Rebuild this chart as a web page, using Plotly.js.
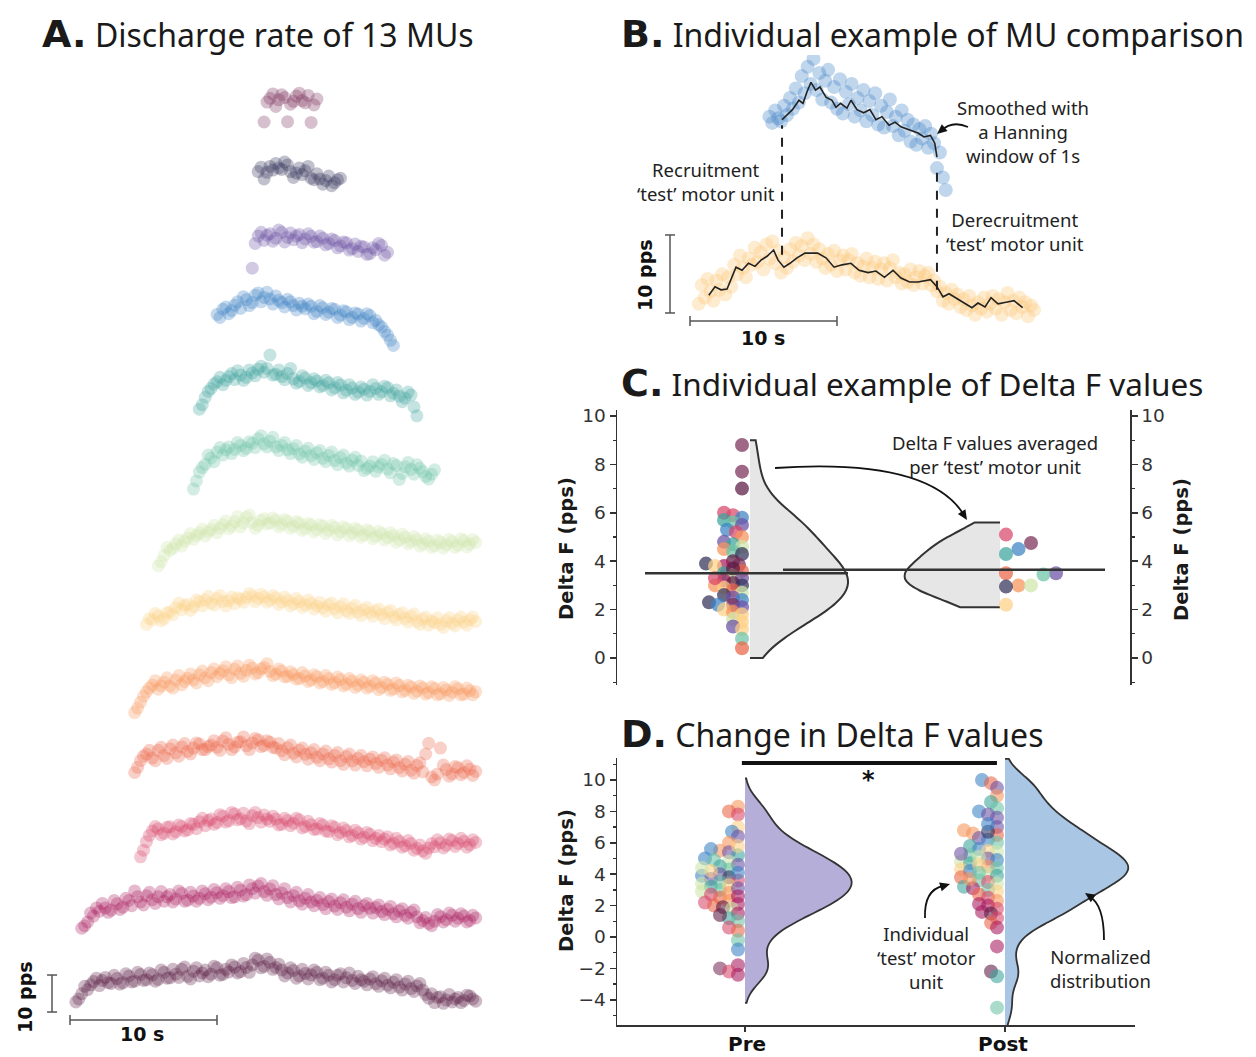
<!DOCTYPE html>
<html><head><meta charset="utf-8">
<script src="https://cdn.plot.ly/plotly-3.0.1.min.js"></script>
<style>body{margin:0;background:#fff}#chart{width:1256px;height:1057px}</style>
</head><body><div id="chart"></div>
<script>
// ---------------- DATA ----------------
// shared time grid (s)
const timeGrid = [0.0,0.2,0.4,0.6,0.8,1.0,1.2,1.4,1.6,1.8,2.0,2.2,2.4,2.6,2.8,3.0,3.2,3.4,3.6,3.8,4.0,4.2,4.4,4.6,4.8,5.0,5.2,5.4,5.6,5.8,6.0,6.2,6.4,6.6,6.8,7.0,7.2,7.4,7.6,7.8,8.0,8.2,8.4,8.6,8.8,9.0,9.2,9.4,9.6,9.8,10.0,10.2,10.4,10.6,10.8,11.0,11.2,11.4,11.6,11.8,12.0,12.2,12.4,12.6,12.8,13.0,13.2,13.4,13.6,13.8,14.0,14.2,14.4,14.6,14.8,15.0,15.2,15.4,15.6,15.8,16.0,16.2,16.4,16.6,16.8,17.0,17.2,17.4,17.6,17.8,18.0,18.2,18.4,18.6,18.8,19.0,19.2,19.4,19.6,19.8,20.0,20.2,20.4,20.6,20.8,21.0,21.2,21.4,21.6,21.8,22.0,22.2,22.4,22.6,22.8,23.0,23.2,23.4,23.6,23.8,24.0,24.2,24.4,24.6,24.8,25.0,25.2,25.4,25.6,25.8,26.0,26.2,26.4,26.6,26.8,27.0,27.2,27.4,27.6,27.8,28.0,28.2,28.4];
// Panel A: discharge rates (pps) of 13 MUs, from recruitment onset (s)
const muOnset = [13.2,12.8,12.4,10.0,8.8,8.4,6.0,5.2,4.4,4.4,4.8,0.8,0.4];
const mu01 = [9.4,14.8,15.8,17.0,13.6,15.4,16.8,16.0,9.5,14.2,15.0,16.4,17.2,15.2,14.6,16.6,9.3,14.0,15.6];
const mu02 = [14.0,15.2,12.0,13.8,15.4,14.4,16.2,15.0,14.6,16.6,15.8,14.0,12.4,13.6,15.0,13.2,14.2,15.4,12.2,11.8,13.4,12.0,10.6,11.6,12.8,10.2,11.0,11.8,12.2];
const mu03 = [5.9,12.6,14.6,15.6,13.4,14.8,15.2,13.2,14.0,16.2,15.6,13.0,14.2,15.4,13.6,14.6,15.0,12.8,13.8,15.2,14.5,12.9,13.1,14.6,14.0,12.2,12.6,13.8,13.4,11.4,11.9,13.0,12.8,10.8,11.2,12.4,10.4,11.8,11.6,9.6,9.8,11.4,10.9,12.6,12.0,9.4,10.2];
const mu04 = [15.4,14.6,16.8,17.4,15.6,16.4,17.9,18.8,17.0,20.2,19.4,17.8,18.6,20.6,21.2,18.8,20.0,21.4,19.6,18.2,20.4,19.2,18.6,17.4,19.5,18.8,17.8,16.6,18.4,17.6,16.9,18.2,17.6,15.6,16.2,17.8,17.2,15.4,16.0,17.0,16.8,14.6,15.2,16.4,16.1,14.0,14.6,15.8,15.5,13.6,14.3,15.6,15.1,13.2,13.8,12.6,12.0,10.8,9.8,8.4,7.0];
const mu05 = [7.8,9.0,11.0,12.6,13.4,14.6,15.2,16.4,14.4,15.6,16.6,17.4,15.8,18.2,17.0,15.6,16.4,18.4,17.6,16.8,18.6,19.4,17.8,18.8,22.4,17.0,17.2,18.4,16.6,15.8,17.4,18.8,16.0,14.8,15.3,16.8,16.2,14.2,14.9,16.0,15.4,13.8,14.2,15.6,14.9,13.0,13.6,15.0,14.3,12.2,12.9,14.4,13.5,11.8,12.4,13.8,13.2,11.6,12.6,14.4,13.4,11.8,12.5,14.0,13.6,11.4,12.1,13.0,11.3,9.8,10.8,12.4,11.6,8.4,6.0];
const mu06 = [6.2,8.4,10.8,12.0,12.9,15.4,14.6,13.6,16.2,17.4,15.4,16.8,17.6,15.8,16.9,18.8,18.0,16.6,17.2,19.0,18.6,17.4,19.8,20.6,18.4,17.6,19.1,20.2,17.6,16.6,18.0,18.8,16.8,15.8,17.1,18.0,15.7,14.8,16.4,17.2,15.2,14.2,16.0,16.6,14.5,13.6,15.3,16.2,13.9,12.8,14.7,15.4,13.2,12.4,14.0,14.8,12.6,13.8,11.2,11.8,12.4,13.6,11.0,12.2,12.9,14.0,11.6,10.6,13.1,12.6,8.8,10.4,12.2,13.4,11.5,10.2,12.8,11.8,10.9,9.6,8.9,10.2,11.4];
const mu07 = [7.4,8.6,10.2,12.4,11.6,12.2,13.4,14.4,12.8,14.0,15.0,16.2,14.6,15.6,16.3,17.4,15.5,16.6,17.2,18.4,16.4,17.6,18.6,19.6,17.5,18.2,19.4,20.8,18.0,19.0,20.6,21.2,19.1,17.6,18.4,19.8,20.2,18.8,19.0,20.4,19.8,18.0,18.6,20.0,19.5,17.6,18.2,19.4,19.0,17.0,17.6,18.9,18.5,16.6,17.3,18.6,18.2,16.2,17.0,18.4,17.8,15.8,16.6,18.0,17.5,15.6,16.3,17.6,17.1,15.2,15.8,17.2,16.7,14.8,15.4,16.8,16.2,14.4,15.1,16.4,15.6,13.8,14.5,16.0,15.2,13.4,14.0,15.4,14.6,12.8,13.4,14.8,14.1,12.4,12.9,14.4,13.8,12.2,13.1,14.6,14.0,12.4,13.0,14.8,14.2,12.6,13.3,14.6,13.8];
const mu08 = [9.6,11.2,10.8,12.6,11.9,10.6,11.2,12.8,13.0,12.2,14.2,15.4,13.6,14.8,15.0,13.4,14.4,16.2,15.8,14.6,16.2,17.2,15.4,14.8,16.6,17.4,15.8,14.6,16.0,17.0,15.2,16.8,16.4,15.6,16.9,18.0,17.3,15.8,16.6,17.8,17.0,15.6,16.2,17.4,16.8,15.0,15.7,17.0,16.1,14.6,15.2,16.6,15.8,14.2,14.9,16.2,15.4,13.8,14.6,15.6,14.1,13.2,14.9,15.4,13.8,12.8,14.4,15.2,13.3,12.6,14.0,14.8,12.9,12.0,13.6,14.2,12.8,11.8,13.2,13.8,12.2,11.2,12.9,13.4,11.6,10.8,12.3,12.8,11.2,10.2,11.8,12.4,10.4,9.6,11.0,11.6,9.4,10.6,10.1,11.4,9.6,8.8,10.6,11.4,9.9,9.2,10.8,11.6,10.2,9.4,10.9,11.6,10.4];
const mu09 = [5.8,7.0,8.6,10.2,11.4,12.4,13.2,14.4,12.1,13.0,14.0,15.2,13.0,12.4,14.6,15.8,13.3,14.2,15.1,16.2,14.6,13.8,16.0,17.0,15.2,14.4,16.6,17.6,15.5,16.4,17.1,18.2,16.0,15.2,17.5,18.4,16.4,15.6,17.2,18.6,17.8,16.2,16.6,17.6,18.0,19.0,16.9,15.8,16.2,17.6,17.0,15.4,15.6,16.8,16.1,14.8,15.0,16.6,15.7,14.2,14.6,16.0,15.5,13.8,14.2,15.8,15.0,13.4,13.9,15.4,14.7,13.0,13.5,15.0,14.3,12.6,13.2,14.6,14.0,12.4,12.9,14.4,13.8,12.0,12.6,14.0,13.4,11.8,12.2,13.8,13.1,11.4,11.8,13.2,12.7,11.0,11.6,13.0,12.4,10.8,11.2,12.8,12.3,10.6,10.9,12.6,11.9,10.4,11.3,12.8,12.2,10.6,10.8,12.4,11.7,10.6,11.4];
const mu10 = [9.6,11.0,12.8,14.0,14.6,15.6,13.5,12.8,15.6,16.4,14.2,13.4,16.0,17.0,14.9,14.0,16.5,17.4,15.3,14.6,16.2,17.6,17.3,15.8,15.8,16.6,17.0,18.2,16.4,15.6,18.1,19.0,17.2,15.8,16.5,17.8,17.9,19.2,16.8,15.8,17.6,18.8,18.4,16.6,16.9,18.2,17.8,16.4,16.2,17.4,15.5,14.4,16.3,17.0,14.8,13.8,15.6,16.2,14.5,13.2,14.9,15.8,13.7,12.8,14.6,15.4,13.3,12.4,14.2,15.0,12.8,11.8,13.9,14.6,12.7,11.6,13.4,14.2,12.5,11.4,13.2,13.8,12.0,11.0,12.9,13.6,11.6,10.6,12.4,13.0,10.9,10.0,11.8,12.6,10.2,9.4,11.5,12.2,9.8,14.6,17.5,8.4,7.6,9.2,16.2,11.6,10.4,8.6,9.2,11.2,10.9,9.0,9.6,11.4,10.5,8.8,9.9];
const mu11 = [8.8,10.6,12.9,14.6,15.8,17.0,16.4,14.8,15.2,16.8,16.9,15.0,15.6,17.4,17.0,15.8,16.1,17.8,17.6,16.4,18.3,19.2,17.2,18.6,19.0,17.6,18.1,20.2,19.8,18.2,18.6,20.8,20.4,18.8,19.1,20.6,18.5,17.8,19.9,20.8,19.4,18.2,20.1,19.0,18.4,19.8,19.0,17.4,17.6,19.2,18.6,17.2,17.9,19.2,18.8,16.6,17.0,18.4,17.5,16.2,16.3,17.8,17.4,15.8,15.6,17.2,16.8,14.8,15.4,16.6,15.9,14.2,14.6,16.0,15.3,13.6,14.1,15.4,14.9,13.2,13.8,14.6,12.9,13.6,14.2,12.0,12.5,13.8,13.0,11.4,11.8,13.2,12.4,10.6,11.1,12.0,10.4,9.8,11.2,12.4,11.5,13.4,12.6,11.2,11.9,13.6,13.2,11.6,12.4,13.8,13.0,11.4,12.1,13.4,12.7];
const mu12 = [7.5,8.2,9.2,11.6,10.8,13.0,12.1,14.2,13.0,11.8,12.4,15.0,14.1,12.6,13.2,15.6,15.0,13.6,17.6,16.0,14.6,13.8,16.3,17.2,15.2,14.2,16.0,17.4,14.8,16.0,16.6,14.6,15.4,17.6,16.9,14.8,15.1,17.2,16.2,14.8,15.6,17.6,16.8,15.2,15.9,18.0,17.1,15.6,16.3,18.2,17.4,15.8,16.0,18.6,17.8,16.2,16.6,19.2,18.2,17.0,18.9,19.6,17.4,16.4,18.1,19.0,16.6,15.4,17.0,18.2,15.8,14.6,16.3,17.2,14.9,14.0,15.6,16.6,14.6,13.6,15.0,15.8,13.9,12.8,14.7,15.4,13.5,12.6,14.4,15.2,13.2,12.2,14.0,14.8,12.8,11.8,13.6,14.2,12.9,11.6,13.1,13.8,12.0,11.2,12.6,13.4,11.4,10.6,12.2,12.8,11.0,10.2,11.8,12.4,10.6,9.0,9.6,10.4,8.8,8.2,9.4,11.2,10.6,9.2,9.8,11.6,11.0,9.4,10.2,11.4,10.8,9.2,9.6,11.0,10.3];
const mu13 = [7.6,8.4,9.8,11.8,10.9,12.2,13.1,14.0,12.0,13.4,14.2,12.8,12.6,14.8,13.9,12.4,12.8,15.2,14.6,13.0,13.2,15.6,15.0,13.4,13.6,15.4,14.9,13.2,13.7,16.2,15.6,14.0,14.1,16.4,15.1,14.2,16.4,17.0,14.5,13.8,15.9,16.8,14.6,15.4,16.2,14.4,15.1,17.2,16.8,14.8,15.0,16.4,15.7,17.6,17.0,15.4,15.8,18.0,16.9,15.6,17.6,19.4,18.9,16.8,17.2,19.2,18.3,16.4,16.9,17.8,16.2,14.6,15.4,16.8,16.1,14.0,14.6,16.4,15.3,13.8,14.9,16.2,15.6,13.6,14.0,15.6,14.8,13.0,13.6,14.8,15.2,13.0,14.1,15.4,13.4,12.6,14.5,13.6,13.2,12.2,13.8,14.4,12.5,11.8,13.3,14.0,12.1,11.4,12.9,13.6,11.6,10.8,12.4,13.2,11.2,10.4,11.9,12.6,10.8,9.6,8.6,9.8,7.4,8.8,9.0,7.2,8.1,9.6,7.6,8.4,8.8,7.4,8.0,9.4,9.2,8.4,7.8];

// Panel B: test MU (blue) and control MU (orange), sampled every 0.2 s
const bTestOnset = 5.4, bCtrlOnset = 0.6;
const bTestRate = [17.2,16.4,18.0,17.0,16.6,18.6,17.4,19.6,18.2,20.8,19.0,22.4,20.2,23.6,21.4,24.6,20.6,22.8,19.4,21.8,23.2,19.0,21.0,18.2,22.0,17.6,20.4,18.8,21.4,17.2,19.6,18.0,20.6,16.6,19.2,17.4,20.2,16.2,18.6,15.8,17.8,19.4,16.0,17.2,14.8,18.0,15.4,16.8,14.0,16.2,13.6,15.6,14.4,16.0,13.2,15.0,13.8,10.6,12.6,9.4,7.8];
const bCtrlRate = [7.2,9.6,8.0,10.4,8.8,7.6,10.2,9.0,11.0,8.4,10.6,9.4,12.2,11.0,13.4,11.8,10.6,13.0,12.2,14.4,12.6,13.8,11.6,14.8,13.0,15.2,12.4,14.0,11.2,13.2,11.8,14.2,12.6,15.0,13.4,14.6,12.8,15.6,13.6,14.8,12.6,14.2,13.0,11.8,13.6,12.2,14.0,11.4,12.8,13.4,11.6,12.8,13.6,11.2,12.4,10.8,12.0,13.0,10.6,11.8,12.6,10.4,11.6,12.4,10.2,11.8,12.8,10.6,11.2,9.8,11.0,10.0,11.6,9.6,10.6,11.4,9.8,10.8,11.2,9.6,10.2,8.8,9.4,7.6,8.6,7.2,9.0,7.8,8.4,6.8,7.8,6.4,8.2,7.0,5.8,7.4,6.6,8.0,6.2,7.2,8.2,6.6,7.8,5.8,7.4,8.6,6.4,7.6,6.0,8.0,6.8,7.4,5.6,7.0,6.4];
const bTestSmoothT = [6.26,6.97,7.41,7.69,7.96,8.23,8.54,8.84,9.25,9.66,9.93,10.24,10.68,10.95,11.36,11.81,12.24,12.65,13.06,13.54,13.95,14.35,14.94,15.51,15.92,16.36,16.65,16.80];
const bTestSmooth = [16.8,18.1,19.3,18.9,20.4,21.6,20.6,21.0,19.7,19.3,18.4,18.9,18.3,19.3,18.1,17.7,18.1,16.8,17.2,16.1,16.5,15.9,15.5,15.1,14.6,14.8,13.8,12.0];
const bCtrlSmoothT = [1.28,1.70,2.11,2.52,3.13,3.54,3.98,4.42,4.83,5.24,5.69,5.99,6.39,6.80,7.28,7.82,8.68,9.25,9.80,10.34,10.95,11.50,12.11,12.65,13.23,13.81,14.35,14.94,15.51,16.36,16.80,17.21,17.62,18.07,18.64,19.18,19.59,20.07,20.48,20.95,21.50,22.04,22.63];
const bCtrlSmooth = [8.3,9.4,9.0,9.1,11.9,11.5,12.4,12.0,12.8,13.3,14.1,12.8,11.9,12.4,13.1,13.7,13.7,13.1,11.9,12.2,12.4,11.5,11.2,11.4,10.6,11.5,10.5,10.0,10.0,10.3,9.4,8.1,8.5,8.0,7.4,6.7,7.3,6.8,8.0,7.2,7.4,7.6,6.7];
const bEventT = [6.26, 16.8];        // recruitment, derecruitment of the test MU (s)
const bEventTest = [16.1, 11.0];     // test MU rate at those times (pps)
const bEventCtrl = [13.5, 9.0];      // control MU rate at those times (pps)

// Panel C: Delta F values (pps)
const cPreVals = [8.8,7.7,7.0,6.0,5.9,5.8,5.7,5.6,5.5,5.3,5.2,5.0,4.8,4.7,4.6,4.5,4.4,4.3,4.0,3.9,3.85,3.8,3.8,3.6,3.5,3.4,3.3,3.2,3.1,3.0,3.0,2.9,2.8,2.7,2.6,2.5,2.4,2.3,2.2,2.2,2.1,2.0,1.9,1.8,1.6,1.5,1.3,1.2,0.8,0.4,3.7,3.3];
const cPreMU = [0,0,12,10,10,3,4,5,2,3,10,8,2,4,6,8,5,1,12,1,0,11,7,9,4,6,2,11,12,1,8,7,9,6,1,2,3,1,0,3,2,7,8,7,6,7,2,7,5,9,12,10];
const cAvgVals = [5.1,4.75,4.5,4.3,3.5,3.5,3.45,3.0,3.0,2.95,2.2];
const cAvgMU = [10,0,3,4,9,2,5,8,6,1,7];
const cPreMean = 3.5, cAvgMean = 3.65;

// Panel D: Delta F values (pps), pre and post
const dGroups = ['Pre', 'Post'];
const dPreVals = [8.3,8.0,7.8,7.0,6.7,6.4,6.0,5.5,5.6,5.4,5.2,5.0,4.9,4.8,4.6,4.5,4.3,4.0,3.9,3.8,3.7,3.6,3.5,3.4,3.2,3.0,2.9,2.7,2.5,2.3,2.2,2.1,2.0,1.9,1.8,1.5,1.2,1.0,0.6,0.4,-0.2,-0.8,-1.8,-2.0,-2.2,4.2,4.4,3.3,2.8,5.8,4.1,3.1,2.6,1.4,-2.4];
const dPreMU = [8,9,10,7,3,2,8,8,3,2,4,3,5,6,2,4,5,2,3,1,2,10,5,6,4,5,6,10,9,8,10,11,9,12,6,11,4,5,10,9,5,3,11,0,10,7,6,7,8,7,3,2,11,12,11];
const dPostVals = [10.0,9.8,9.5,9.0,8.6,8.2,8.0,7.8,7.6,7.0,6.8,6.6,6.5,6.3,6.2,6.0,5.8,5.6,5.5,5.4,5.2,5.0,4.9,4.8,4.7,4.5,4.4,4.3,4.2,4.0,3.9,3.8,3.6,3.5,3.4,3.2,3.1,3.0,2.9,2.7,2.5,2.3,2.1,2.0,1.8,1.6,1.5,1.2,0.9,0.6,-0.6,-2.2,-2.5,-4.5,5.1,4.6,3.7,6.7,7.2,5.3,4.1];
const dPostMU = [3,9,2,8,4,5,3,2,2,2,8,8,9,2,3,5,4,3,7,6,5,2,3,6,4,8,5,7,3,6,4,9,5,10,6,4,11,5,7,9,10,8,11,11,10,11,12,10,9,11,11,12,4,5,6,7,8,1,3,2,5];
const dSigY = 11.08;
const scaleTime = 10, scaleRate = 10;

// ---------------- STYLE / HELPERS ----------------
const W = 1256, H = 1057;
const fx = x => x / W, fy = y => 1 - y / H;
const P = (x, y) => fx(x).toFixed(5) + ',' + fy(y).toFixed(5);
const FONT = 'Noto Sans, sans-serif';
const BFONT = 'DejaVu Sans, sans-serif';
const muColors = ['#7a2e58','#32325a','#6a51a3','#3b82c4','#3aa39d','#6cc3a6','#cde6a9','#fdd085','#f7945a','#ea6447','#d8466a','#a81a5e','#5b1a42'];
const rowOffset = [236,218,200,178,160,140,118,100,80,60,38,20,0];
const bTestOffset = 14;
const idxOf = t => timeGrid.findIndex(v => Math.abs(v - t) < 1e-6);
function rgba(hex, a) {
  const n = parseInt(hex.slice(1), 16);
  return `rgba(${n >> 16},${(n >> 8) & 255},${n & 255},${a})`;
}
// one-sided beeswarm: pixel offsets away from the violin centre line
function swarm(vals, pxY, minDist, step, start) {
  const order = vals.map((v, i) => i).sort((a, b) => vals[a] - vals[b]);
  const placed = [], out = new Array(vals.length);
  for (const i of order) {
    const y = vals[i] * pxY;
    let x = start;
    for (let k = 0; k < 80; k++) {
      x = start + k * step;
      if (placed.every(p => (p.x - x) ** 2 + (p.y - y) ** 2 >= minDist * minDist)) break;
    }
    placed.push({x, y}); out[i] = x;
  }
  return out;
}

// ---------------- TRACES ----------------
const traces = [];
[mu01,mu02,mu03,mu04,mu05,mu06,mu07,mu08,mu09,mu10,mu11,mu12,mu13].forEach((r, i) => {
  const s = idxOf(muOnset[i]);
  traces.push({type:'scatter', mode:'markers', xaxis:'x', yaxis:'y', hoverinfo:'skip',
    x: timeGrid.slice(s, s + r.length), y: r.map(v => v + rowOffset[i]),
    marker:{size:13, color:muColors[i], opacity:0.3, line:{width:0}}});
});

// Panel B
(function(){
  const sT = idxOf(bTestOnset), sC = idxOf(bCtrlOnset);
  traces.push({type:'scatter', mode:'markers', xaxis:'x2', yaxis:'y2', hoverinfo:'skip',
    x: timeGrid.slice(sC, sC + bCtrlRate.length), y: bCtrlRate,
    marker:{size:14, color:'#fdc56f', opacity:0.32, line:{width:0}}});
  traces.push({type:'scatter', mode:'markers', xaxis:'x2', yaxis:'y2', hoverinfo:'skip',
    x: timeGrid.slice(sT, sT + bTestRate.length), y: bTestRate.map(v => v + bTestOffset),
    marker:{size:14, color:'#3f84c6', opacity:0.33, line:{width:0}}});
  traces.push({type:'scatter', mode:'lines', xaxis:'x2', yaxis:'y2', hoverinfo:'skip',
    x: bCtrlSmoothT, y: bCtrlSmooth, line:{color:'#222', width:1.6}});
  traces.push({type:'scatter', mode:'lines', xaxis:'x2', yaxis:'y2', hoverinfo:'skip',
    x: bTestSmoothT, y: bTestSmooth.map(v => v + bTestOffset), line:{color:'#222', width:1.6}});
})();

// Panel C
const cPxY = 24.2, cPxX = 250, dPxY = 15.7, dPxX = 260;
const vBase = {type:'violin', points:false, hoverinfo:'skip', box:{visible:false}, meanline:{visible:false}};
traces.push(Object.assign({}, vBase, {xaxis:'x3', yaxis:'y3', x0:1, y:cPreVals, side:'positive', width:0.784,
  bandwidth:0.85, spanmode:'manual', span:[0, 9], fillcolor:'#e6e6e6', line:{color:'#333', width:2}}));
traces.push(Object.assign({}, vBase, {xaxis:'x3', yaxis:'y4', x0:2, y:cAvgVals, side:'negative', width:0.76,
  bandwidth:0.7, spanmode:'manual', span:[2.1, 5.6], fillcolor:'#e6e6e6', line:{color:'#333', width:2}}));
(function(){
  const o1 = swarm(cPreVals, cPxY, 6.5, 3, 8);
  traces.push({type:'scatter', mode:'markers', xaxis:'x3', yaxis:'y3', hoverinfo:'skip',
    x: o1.map(o => 1 - o / cPxX), y: cPreVals,
    marker:{size:14, color: cPreMU.map(m => rgba(muColors[m], 0.72)), line:{width:0}}});
  const o2 = swarm(cAvgVals, cPxY, 12.5, 12.5, 6);
  traces.push({type:'scatter', mode:'markers', xaxis:'x3', yaxis:'y4', hoverinfo:'skip',
    x: o2.map(o => 2 + o / cPxX), y: cAvgVals,
    marker:{size:14, color: cAvgMU.map(m => rgba(muColors[m], 0.72)), line:{width:0}}});
})();

// Panel D
traces.push(Object.assign({}, vBase, {xaxis:'x5', yaxis:'y5', x0:1, y:dPreVals, side:'positive', width:0.82,
  bandwidth:0.9, fillcolor:'#b5aed8', line:{color:'#333', width:1.8}}));
traces.push(Object.assign({}, vBase, {xaxis:'x5', yaxis:'y5', x0:2, y:dPostVals, side:'positive', width:0.946,
  bandwidth:0.85, spanmode:'manual', span:[-5.9, 11.35], fillcolor:'#a9c6e4', line:{color:'#333', width:1.8}}));
(function(){
  const o1 = swarm(dPreVals, dPxY, 7.5, 3, 7);
  traces.push({type:'scatter', mode:'markers', xaxis:'x5', yaxis:'y5', hoverinfo:'skip',
    x: o1.map(o => 1 - o / dPxX), y: dPreVals,
    marker:{size:14, color: dPreMU.map(m => rgba(muColors[m], 0.58)), line:{width:0}}});
  const o2 = swarm(dPostVals, dPxY, 7.5, 3, 8);
  traces.push({type:'scatter', mode:'markers', xaxis:'x5', yaxis:'y5', hoverinfo:'skip',
    x: o2.map(o => 2 - o / dPxX), y: dPostVals,
    marker:{size:14, color: dPostMU.map(m => rgba(muColors[m], 0.58)), line:{width:0}}});
})();

// ---------------- LAYOUT ----------------
const hid = {visible:false, fixedrange:true, showgrid:false, zeroline:false};
const tickF = {family:BFONT, size:18.5, color:'#333'};
const yDelta = {showline:true, linecolor:'#333', linewidth:1.5, ticks:'outside', ticklen:6, tickwidth:1.5,
  tickcolor:'#333', tick0:0, dtick:2, tickfont:tickF, showgrid:false, zeroline:false, fixedrange:true,
  minor:{ticks:'outside', dtick:1, ticklen:3, tickcolor:'#333', tickwidth:1.2}};

function txt(x, y, text, o = {}) {
  const base = {xref:'paper', yref:'paper', x:fx(x), y:fy(y), text, showarrow:false,
    xanchor:'center', yanchor:'middle', font:{family:FONT, size:18.5, color:'#222'}};
  return Object.assign(base, o);
}
const titleF = {family:FONT, size:32, color:'#1a1a1a'};
const L = s => `<span style="font-family:DejaVu Sans;font-size:38px;font-weight:bold">${s}</span> `;
const boldF = {family:BFONT, size:19, color:'#111'};
const axT = {family:BFONT, size:19.5, color:'#1a1a1a'};
const annotations = [
  txt(40, 34, L('A.') + 'Discharge rate of 13 MUs', {xanchor:'left', font:titleF}),
  txt(619, 34, L('B.') + 'Individual example of MU comparison', {xanchor:'left', font:titleF}),
  txt(619, 383, L('C.') + 'Individual example of Delta F values', {xanchor:'left', font:Object.assign({}, titleF, {size:31.5})}),
  txt(619, 734, L('D.') + 'Change in Delta F values', {xanchor:'left', font:titleF}),
  txt(25, 997, '<b>10 pps</b>', {textangle:-90, font:boldF}),
  txt(142, 1034, '<b>10 s</b>', {font:boldF}),
  txt(645, 275, '<b>10 pps</b>', {textangle:-90, font:boldF}),
  txt(763, 338, '<b>10 s</b>', {font:boldF}),
  txt(1023, 131, 'Smoothed with<br>a Hanning<br>window of 1s'),
  txt(706, 181, 'Recruitment<br>‘test’ motor unit'),
  txt(1015, 231, 'Derecruitment<br>‘test’ motor unit'),
  txt(995, 454, 'Delta F values averaged<br>per ‘test’ motor unit'),
  txt(926, 957, 'Individual<br>‘test’ motor<br>unit'),
  txt(1100, 968, 'Normalized<br>distribution'),
  txt(566, 549, '<b>Delta F (pps)</b>', {textangle:-90, font:axT}),
  txt(1181, 550, '<b>Delta F (pps)</b>', {textangle:-90, font:axT}),
  txt(566, 881, '<b>Delta F (pps)</b>', {textangle:-90, font:axT}),
  txt(747, 1044, '<b>' + dGroups[0] + '</b>', {font:{family:BFONT, size:20, color:'#111'}}),
  txt(1003, 1044, '<b>' + dGroups[1] + '</b>', {font:{family:BFONT, size:20, color:'#111'}}),
  txt(868, 780, '<b>*</b>', {font:{family:BFONT, size:24, color:'#111'}})
];

function curve(p0, c, p1) {
  return {type:'path', xref:'paper', yref:'paper', path:`M ${P(...p0)} Q ${P(...c)} ${P(...p1)}`,
    line:{color:'#111', width:1.8}};
}
function head(tip, from) {
  const dx = tip[0] - from[0], dy = tip[1] - from[1], len0 = Math.hypot(dx, dy);
  const ux = dx / len0, uy = dy / len0, len = 10, w = 4.5;
  const bx = tip[0] - ux * len, by = tip[1] - uy * len;
  return {type:'path', xref:'paper', yref:'paper', fillcolor:'#111', line:{width:0},
    path:`M ${P(tip[0], tip[1])} L ${P(bx - uy * w, by + ux * w)} L ${P(bx + uy * w, by - ux * w)} Z`};
}
const bar = (xr, yr, x0, y0, x1, y1, w, c) => ({type:'line', xref:xr, yref:yr, x0, y0, x1, y1, line:{color:c || '#555', width:w || 1.5}});
const shapes = [
  // A scale bars
  bar('x','y', 0, 2.7, scaleTime, 2.7), bar('x','y', 0, 1.35, 0, 4.05), bar('x','y', scaleTime, 1.35, scaleTime, 4.05),
  bar('x','y', -1.224, 4.86, -1.224, 4.86 + scaleRate), bar('x','y', -1.56, 4.86, -0.88, 4.86), bar('x','y', -1.56, 4.86 + scaleRate, -0.88, 4.86 + scaleRate),
  // B scale bars
  bar('x2','y2', 0, 5.0, scaleTime, 5.0), bar('x2','y2', 0, 4.36, 0, 5.64), bar('x2','y2', scaleTime, 4.36, scaleTime, 5.64),
  bar('x2','y2', -1.36, 6.03, -1.36, 6.03 + scaleRate), bar('x2','y2', -1.70, 6.03, -1.02, 6.03), bar('x2','y2', -1.70, 6.03 + scaleRate, -1.02, 6.03 + scaleRate),
  // B dashed event lines
  ...bEventT.map((t, i) => ({type:'line', xref:'x2', yref:'y2', x0:t, x1:t, y0:bEventCtrl[i], y1:bEventTest[i] + bTestOffset,
    line:{color:'#222', width:2, dash:'dash'}})),
  // C mean lines
  bar('x3','y3', 0.58, cPreMean, 1.392, cPreMean, 2.5, '#333'),
  bar('x3','y4', 1.132, cAvgMean, 2.42, cAvgMean, 2.5, '#333'),
  // D significance bar
  bar('x5','y5', 0.988, dSigY, 1.969, dSigY, 4, '#111'),
  // arrows
  curve([968,127],[952,120],[941,131]), head([937,134],[943,129]),
  curve([775,468],[925,458],[962,512]), head([967,520],[960,509]),
  curve([925,918],[924,890],[943,886]), head([950,884],[940,887]),
  curve([1104,940],[1104,905],[1090,897]), head([1085,893],[1094,899])
];

const layout = {
  width:W, height:H, margin:{l:0, r:0, t:0, b:0}, paper_bgcolor:'#fff', plot_bgcolor:'rgba(0,0,0,0)',
  showlegend:false, hovermode:false, violinmode:'overlay', violingap:0, violingroupgap:0,
  font:{family:FONT},
  xaxis: Object.assign({}, hid, {domain:[fx(40), fx(495)], range:[-2.041, 28.912], anchor:'y'}),
  yaxis: Object.assign({}, hid, {domain:[fy(1040), fy(80)], range:[-2.703, 256.757], anchor:'x'}),
  xaxis2: Object.assign({}, hid, {domain:[fx(620), fx(1250)], range:[-4.762, 38.095], anchor:'y2'}),
  yaxis2: Object.assign({}, hid, {domain:[fy(345), fy(55)], range:[1.923, 39.103], anchor:'x2'}),
  xaxis3: {domain:[fx(617), fx(1130)], range:[0.468, 2.52], anchor:'y3', showline:false, showticklabels:false,
    ticks:'', showgrid:false, zeroline:false, fixedrange:true},
  yaxis3: Object.assign({}, yDelta, {domain:[fy(685), fy(410)], range:[-1.116, 10.248], anchor:'x3'}),
  yaxis4: Object.assign({}, yDelta, {range:[-1.116, 10.248], anchor:'x3', overlaying:'y3', side:'right'}),
  xaxis5: {domain:[fx(617), fx(1135)], range:[0.5077, 2.5], anchor:'y5', showline:true, linecolor:'#333', linewidth:1.5,
    tickvals:[1, 2], showticklabels:false, ticks:'outside', ticklen:5, tickwidth:1.5, tickcolor:'#333',
    showgrid:false, zeroline:false, fixedrange:true},
  yaxis5: Object.assign({}, yDelta, {domain:[fy(1025), fy(758)], range:[-5.605, 11.401], anchor:'x5'}),
  annotations, shapes
};
Plotly.newPlot('chart', traces, layout, {staticPlot:true, displayModeBar:false});
</script></body></html>
